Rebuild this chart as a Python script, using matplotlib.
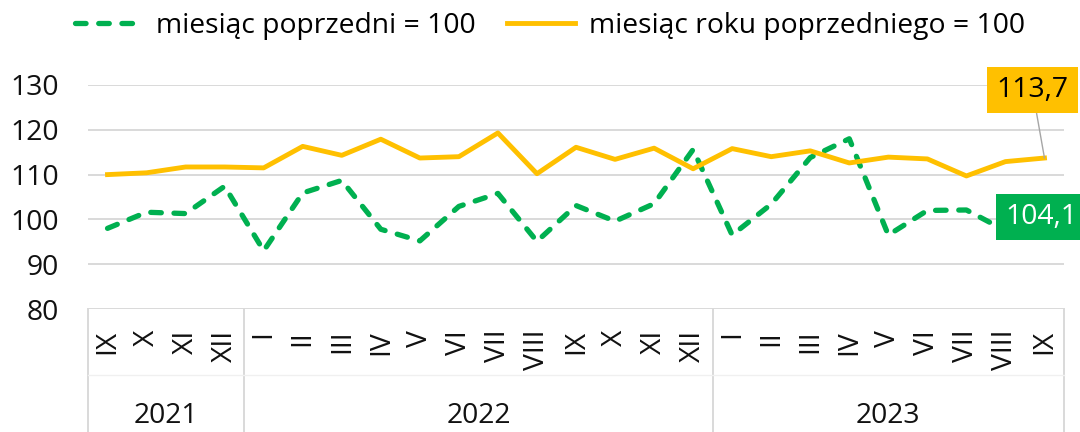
import matplotlib
matplotlib.use("Agg")
import matplotlib.pyplot as plt
import matplotlib.transforms as mtransforms
import numpy as np

# ---- data ----
months = ["IX", "X", "XI", "XII",
          "I", "II", "III", "IV", "V", "VI", "VII", "VIII", "IX", "X", "XI", "XII",
          "I", "II", "III", "IV", "V", "VI", "VII", "VIII", "IX"]
years = ["2021", "2022", "2023"]
year_counts = [4, 12, 9]
prev_month = [98.0, 101.6, 101.3, 107.4, 93.0, 105.9, 108.7, 97.8, 95.2, 102.9,
              105.8, 95.1, 103.1, 99.6, 103.5, 115.6, 96.5, 103.4, 113.8, 118.0,
              96.5, 102.0, 102.1, 97.5, 104.1]
prev_year = [110.0, 110.4, 111.7, 111.7, 111.5, 116.3, 114.3, 117.9, 113.7, 114.0,
             119.3, 110.2, 116.1, 113.4, 115.9, 111.3, 115.8, 114.0, 115.3, 112.6,
             113.9, 113.5, 109.7, 112.9, 113.7]
label_prev_month = "miesiąc poprzedni = 100"
label_prev_year = "miesiąc roku poprzedniego = 100"
yticks = [80, 90, 100, 110, 120, 130]

GREEN = "#00B050"
YELLOW = "#FFC000"
GRID = "#d9d9d9"
TXT = "#111111"
FS = 20.3

plt.rcParams['font.family'] = ['Open Sans', 'DejaVu Sans']

fig = plt.figure(figsize=(10.8, 4.32), dpi=100)
ax = fig.add_axes([88/1080, 1-309/432, (1064-88)/1080, (309-85)/432])

x = np.arange(len(months))
l1, = ax.plot(x, prev_month, color=GREEN, lw=3.8, linestyle=(0, (2.0, 2.4)),
              dash_capstyle='round', solid_joinstyle='round', zorder=3,
              label=label_prev_month)
l2, = ax.plot(x, prev_year, color=YELLOW, lw=3.5, solid_joinstyle='round',
              zorder=3, label=label_prev_year)

ax.set_xlim(-0.5, len(months) - 0.5)
ax.set_ylim(80, 130)
ax.set_yticks(yticks)
ax.set_yticklabels([str(v) for v in yticks], fontsize=FS, color=TXT)
ax.yaxis.grid(True, color=GRID, lw=1.4, zorder=0)
ax.set_axisbelow(True)
for s in ax.spines.values():
    s.set_visible(False)
ax.tick_params(axis='y', length=0, pad=21)

ax.set_xticks(x)
ax.set_xticklabels(months, rotation=90, fontsize=FS, color=TXT, va='top')
ax.tick_params(axis='x', length=0, pad=15)

# category axis separators
trans = mtransforms.blended_transform_factory(ax.transData, ax.transAxes)
bounds = np.concatenate([[0], np.cumsum(year_counts)]) - 0.5
for b in bounds:
    ax.plot([b, b], [0, -0.56], transform=trans, color=GRID, lw=1.4, clip_on=False)
ax.plot([-0.5, len(months) - 0.5], [-0.295, -0.295], transform=trans,
        color='#f0f0f0', lw=1.0, clip_on=False)
for i, yr in enumerate(years):
    cx = (bounds[i] + bounds[i + 1]) / 2
    ax.text(cx, -0.478, yr, transform=trans, ha='center', va='center',
            fontsize=FS, color=TXT)

# data labels
ax.annotate(f"{prev_year[-1]:.1f}".replace('.', ','), xy=(x[-1], prev_year[-1]),
            xytext=(-12, 68), textcoords='offset pixels', ha='center', va='center',
            fontsize=FS, color='#000000', zorder=6, annotation_clip=False,
            bbox=dict(boxstyle='square,pad=0.32', fc=YELLOW, ec='none'),
            arrowprops=dict(arrowstyle='-', color='#a6a6a6', lw=1.0,
                            shrinkA=0, shrinkB=0))
ax.annotate(f"{prev_month[-1]:.1f}".replace('.', ','), xy=(x[-1], prev_month[-1]),
            xytext=(-3, -16), textcoords='offset pixels', ha='center', va='center',
            fontsize=FS, color='white', zorder=6, annotation_clip=False,
            bbox=dict(boxstyle='square,pad=0.32', fc=GREEN, ec='none'))

fig.legend(handles=[l1, l2], loc='center', bbox_to_anchor=(0.509, 0.94),
           ncol=2, frameon=False, fontsize=FS, handlelength=2.4,
           handletextpad=0.5, columnspacing=1.1)

fig.savefig("out.png", dpi=100)
